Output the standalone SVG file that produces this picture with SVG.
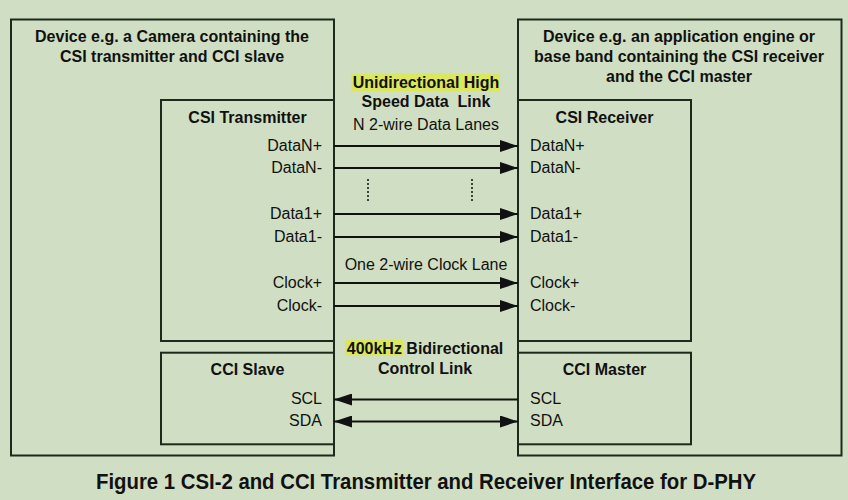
<svg xmlns="http://www.w3.org/2000/svg" width="848" height="500" viewBox="0 0 848 500">
<style>
  .box{fill:none;stroke:#1b2a1b;stroke-width:2}
  .t{font-family:"Liberation Sans",Arial,sans-serif;font-size:16px;fill:#111}
  .b{font-weight:bold}
  .m{text-anchor:middle}
  .e{text-anchor:end}
  .w{stroke:#111;stroke-width:2;fill:none}
  .dot{stroke:#111;stroke-width:1.5;stroke-dasharray:2,2}
  .hl{fill:#dbe85e}
  .cap{font-family:"Liberation Sans",Arial,sans-serif;font-size:22px;font-weight:bold;fill:#111}
</style>
<defs>
  <marker id="ah" viewBox="0 0 18 12" refX="18" refY="6" markerWidth="18" markerHeight="12" markerUnits="userSpaceOnUse" orient="auto-start-reverse">
    <path d="M0,0 L18,6 L0,12 z" fill="#111"/>
  </marker>
</defs>
<rect width="848" height="500" fill="#d0dfc3"/>

<g id="camera-device">
  <rect class="box" x="11" y="19.5" width="323" height="436"/>
  <text class="t b m" x="172" y="42">Device e.g. a Camera containing the</text>
  <text class="t b m" x="172" y="62">CSI transmitter and CCI slave</text>
</g>
<g id="csi-transmitter">
  <rect class="box" x="161" y="100" width="173" height="241"/>
  <text class="t b m" x="247.5" y="123">CSI Transmitter</text>
  <text class="t e" x="322" y="151">DataN+</text>
  <text class="t e" x="322" y="173">DataN-</text>
  <text class="t e" x="322" y="219">Data1+</text>
  <text class="t e" x="322" y="242">Data1-</text>
  <text class="t e" x="322" y="288">Clock+</text>
  <text class="t e" x="322" y="311">Clock-</text>
</g>
<g id="cci-slave">
  <rect class="box" x="161" y="352.7" width="173" height="91.6"/>
  <text class="t b m" x="247.5" y="375">CCI Slave</text>
  <text class="t e" x="322" y="404">SCL</text>
  <text class="t e" x="322" y="426">SDA</text>
</g>

<g id="host-device">
  <rect class="box" x="518" y="19.5" width="323.5" height="436"/>
  <text class="t b m" x="679" y="42">Device e.g. an application engine or</text>
  <text class="t b m" x="679" y="62">base band containing the CSI receiver</text>
  <text class="t b m" x="679" y="82">and the CCI master</text>
</g>
<g id="csi-receiver">
  <rect class="box" x="518" y="100" width="173" height="241"/>
  <text class="t b m" x="604.5" y="123">CSI Receiver</text>
  <text class="t" x="530" y="151">DataN+</text>
  <text class="t" x="530" y="173">DataN-</text>
  <text class="t" x="530" y="219">Data1+</text>
  <text class="t" x="530" y="242">Data1-</text>
  <text class="t" x="530" y="288">Clock+</text>
  <text class="t" x="530" y="311">Clock-</text>
</g>
<g id="cci-master">
  <rect class="box" x="518" y="352.7" width="173" height="91.6"/>
  <text class="t b m" x="604.5" y="375">CCI Master</text>
  <text class="t" x="530" y="404">SCL</text>
  <text class="t" x="530" y="426">SDA</text>
</g>

<g id="link-labels">
  <rect class="hl" x="351" y="73.5" width="149" height="18"/>
  <text class="t b m" x="426" y="88">Unidirectional High</text>
  <text class="t b m" x="426" y="107" xml:space="preserve">Speed Data  Link</text>
  <text class="t m" x="426" y="130">N 2-wire Data Lanes</text>
  <text class="t m" x="426" y="269.5">One 2-wire Clock Lane</text>
  <rect class="hl" x="345" y="340" width="58" height="16"/>
  <text class="t b m" x="425" y="354">400kHz Bidirectional</text>
  <text class="t b m" x="425" y="374">Control Link</text>
</g>

<g id="connectors">
  <line class="w" x1="334" y1="146" x2="518" y2="146" marker-end="url(#ah)"/>
  <line class="w" x1="334" y1="168" x2="518" y2="168" marker-end="url(#ah)"/>
  <line class="w" x1="334" y1="214" x2="518" y2="214" marker-end="url(#ah)"/>
  <line class="w" x1="334" y1="237" x2="518" y2="237" marker-end="url(#ah)"/>
  <line class="w" x1="334" y1="283" x2="518" y2="283" marker-end="url(#ah)"/>
  <line class="w" x1="334" y1="306" x2="518" y2="306" marker-end="url(#ah)"/>
  <line class="w" x1="518" y1="399.5" x2="334" y2="399.5" marker-end="url(#ah)"/>
  <line class="w" x1="334" y1="421.5" x2="518" y2="421.5" marker-start="url(#ah)" marker-end="url(#ah)"/>
  <line class="dot" x1="368" y1="179" x2="368" y2="203"/>
  <line class="dot" x1="472" y1="179" x2="472" y2="203"/>
</g>

<text class="cap" x="96" y="489" textLength="660" lengthAdjust="spacingAndGlyphs">Figure 1 CSI-2 and CCI Transmitter and Receiver Interface for D-PHY</text>
</svg>
